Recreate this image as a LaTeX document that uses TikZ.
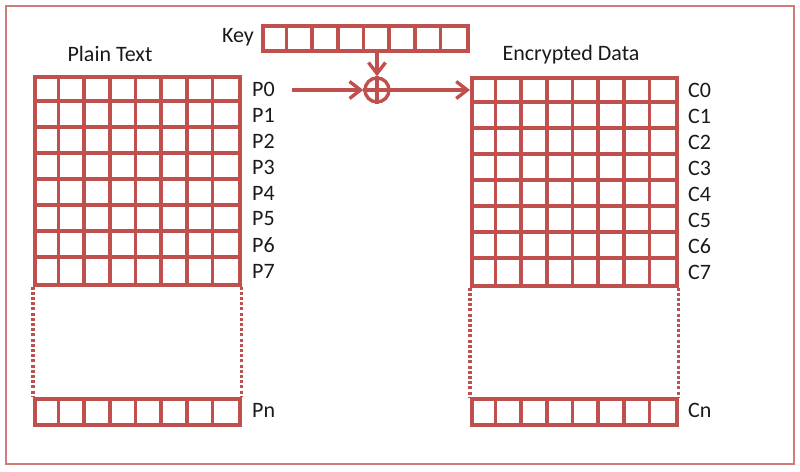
\documentclass[tikz,border=0pt]{standalone}
\usepackage{fontspec}
\setmainfont{Carlito}
\usetikzlibrary{arrows.meta}
\definecolor{gr}{HTML}{C0504D}
\definecolor{fr}{HTML}{D27C7A}
\definecolor{tx}{HTML}{1A1A1A}
\begin{document}
\begin{tikzpicture}[x=1pt,y=-1pt,
  gridline/.style={draw=gr,line width=3.6pt},
  gridnode/.style={draw=gr,line width=3.6pt,inner sep=0pt,anchor=north west},
  lbl/.style={text=tx,font=\fontsize{22}{26}\selectfont,inner sep=0pt,anchor=west},
  ttl/.style={text=tx,font=\fontsize{22}{26}\selectfont,inner sep=0pt},
  dots/.style={draw=gr,line width=3.2pt,dash pattern=on 3pt off 2.2pt},
  conn/.style={draw=gr,line width=3.4pt,-{Straight Barb[length=11pt,width=17pt,line width=3.4pt]}},
  frame/.style={draw=fr,line width=1.4pt}]
\useasboundingbox (0,0) rectangle (800,471);
\fill[white] (0,0) rectangle (800,471);
\draw[frame] (6,6) rectangle (794,464);

% Plain text grid
\node[gridnode,minimum width=205pt,minimum height=208pt] (plain) at (33,75) {};
\foreach \i in {1,...,7} \draw[gridline] (33,75+26*\i) -- (238,75+26*\i);
\foreach \j in {1,...,7} \draw[gridline] (33+25.625*\j,75) -- (33+25.625*\j,283);
\node[gridnode,minimum width=205pt,minimum height=26pt] (plainn) at (33,397) {};
\foreach \j in {1,...,7} \draw[gridline] (33+25.625*\j,397) -- (33+25.625*\j,423);
\draw[dots] (plain.south west) -- (plainn.north west);
\draw[dots] (plain.south east) -- (plainn.north east);

% Encrypted grid
\node[gridnode,minimum width=205pt,minimum height=208pt] (enc) at (470,76) {};
\foreach \i in {1,...,7} \draw[gridline] (470,76+26*\i) -- (675,76+26*\i);
\foreach \j in {1,...,7} \draw[gridline] (470+25.625*\j,76) -- (470+25.625*\j,284);
\node[gridnode,minimum width=205pt,minimum height=26pt] (encn) at (470,397) {};
\foreach \j in {1,...,7} \draw[gridline] (470+25.625*\j,397) -- (470+25.625*\j,423);
\draw[dots] (enc.south west) -- (encn.north west);
\draw[dots] (enc.south east) -- (encn.north east);

% Key
\node[gridnode,minimum width=205pt,minimum height=25pt] (key) at (261,24) {};
\foreach \j in {1,...,7} \draw[gridline] (261+25.625*\j,24) -- (261+25.625*\j,49);
\node[ttl,anchor=east] (keylbl) at (254,37) {Key};

% Titles
\node[ttl] (ptitle) at (110,54) {Plain Text};
\node[ttl] (etitle) at (571,55) {Encrypted Data};

% Labels
\foreach \k in {0,...,7} \node[lbl] (p\k) at (252,89+26*\k) {P\k};
\node[lbl] (pn) at (252,410) {Pn};
\foreach \k in {0,...,7} \node[lbl] (c\k) at (688,90+26*\k) {C\k};
\node[lbl] (cn) at (688,410) {Cn};

% XOR
\node[draw=gr,line width=3.4pt,circle,minimum size=24pt,inner sep=0pt] (xor) at (377,90) {};
\draw[gridline] (xor.north) -- (xor.south);
\draw[gridline] (xor.west) -- (xor.east);
\coordinate (pstart) at (292,90);
\draw[conn] (pstart) -- (xor.west);
\draw[conn] (xor.east) -- (enc.west |- xor.east);
\draw[conn] (key.south -| xor.north) -- (xor.north);
\end{tikzpicture}
\end{document}
